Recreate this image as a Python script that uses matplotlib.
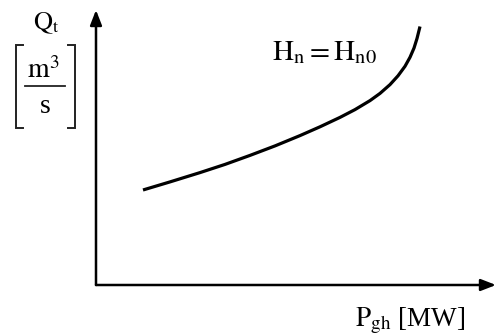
import matplotlib
matplotlib.use("Agg")
import matplotlib.pyplot as plt
from matplotlib.lines import Line2D

# Characteristic Q_t = f(P_gh) at constant head H_n = H_n0 (arbitrary units)
power = [1.175, 1.85, 2.60, 3.225, 3.85, 4.475, 5.10, 5.60, 6.10, 6.475, 6.85,
         7.10, 7.35, 7.55, 7.725, 7.85, 7.95, 8.025, 8.10]
flow = [3.455, 3.749, 4.087, 4.385, 4.713, 5.058, 5.433, 5.753, 6.095, 6.378,
        6.705, 6.967, 7.287, 7.607, 7.953, 8.28, 8.615, 8.964, 9.40]

y_label = r"$\mathrm{Q_t}$"
unit_num = r"$\mathrm{m}^3$"
unit_den = "s"
x_label = r"$\mathrm{P_{gh}}$ [MW]"
curve_label = r"$\mathrm{H_n = H_{n0}}$"

plt.rcParams["font.family"] = ["Liberation Serif", "DejaVu Serif"]
plt.rcParams["mathtext.fontset"] = "stix"

W, H = 497, 335
fig = plt.figure(figsize=(W / 100, H / 100), dpi=100)

def fx(px):
    return px / W

def fy(py):
    return 1 - py / H

# axes box: origin at (96, 285) px, extends to the arrow tips
ax = fig.add_axes([fx(96), fy(285), (496 - 96) / W, (285 - 10) / H])
ax.set_xlim(0, 10)
ax.set_ylim(0, 10)
ax.axis("off")

ax.plot(power, flow, color="black", lw=2.3, solid_capstyle="butt",
        solid_joinstyle="round")

arrow = dict(arrowstyle="-|>,head_length=0.9,head_width=0.35",
             color="black", lw=1.8, shrinkA=0, shrinkB=0)
ax.annotate("", xy=(0, 1), xytext=(0, 0), xycoords="axes fraction",
            textcoords="axes fraction", arrowprops=arrow)
ax.annotate("", xy=(1, 0), xytext=(0, 0), xycoords="axes fraction",
            textcoords="axes fraction", arrowprops=arrow)

# unit [m^3 / s]: brackets and fraction bar
for xs in ([23, 16, 16, 23], [68, 75, 75, 68]):
    fig.add_artist(Line2D([fx(v) for v in xs],
                          [fy(45), fy(45), fy(128), fy(128)],
                          transform=fig.transFigure, color="#222222",
                          lw=1.4, solid_joinstyle="miter"))
fig.add_artist(Line2D([fx(25), fx(65)], [fy(85.5), fy(85.5)],
                      transform=fig.transFigure, color="#222222", lw=1.3))

fig.text(fx(46), fy(29), y_label, fontsize=19, ha="center", va="baseline")
fig.text(fx(43), fy(78), unit_num, fontsize=20, ha="center", va="baseline")
fig.text(fx(45), fy(113), unit_den, fontsize=20, ha="center", va="baseline")
fig.text(fx(272), fy(60), curve_label, fontsize=21, ha="left", va="baseline")
fig.text(fx(355), fy(326), x_label, fontsize=19.5, ha="left", va="baseline")

fig.savefig("out.png", dpi=100, facecolor="white")
